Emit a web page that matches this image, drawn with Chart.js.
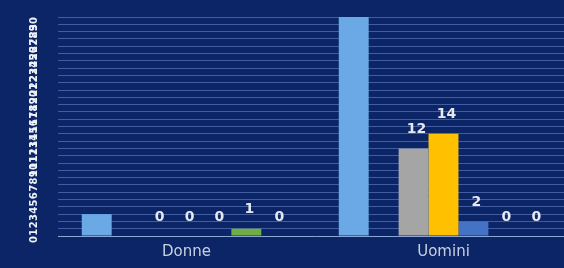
<!DOCTYPE html>
<html>
<head>
<meta charset="utf-8">
<script src="https://cdn.jsdelivr.net/npm/chart.js@4/dist/chart.umd.min.js"></script>
<style>
html,body{margin:0;padding:0;background:#0b2566;overflow:hidden;}
#wrap{width:564px;height:268px;position:relative;overflow:hidden;}
</style>
</head>
<body>
<div id="wrap"><canvas id="c" width="572" height="268"></canvas></div>
<script>
const categories = ["Donne", "Uomini"];
const series1 = [3, 30];
const series2 = [null, null];
const series3 = [0, 12];
const series4 = [0, 14];
const series5 = [0, 2];
const series6 = [1, 0];
const series7 = [0, 0];
const yTicks = [];
for (let i = 0; i <= 30; i++) yTicks.push(String(i));

const labelPlugin = {
  id: 'valueLabels',
  afterDatasetsDraw(chart) {
    const ctx = chart.ctx;
    ctx.save();
    ctx.fillStyle = '#e4e8f0';
    ctx.font = 'bold 14px "DejaVu Sans"';
    ctx.textAlign = 'center';
    ctx.textBaseline = 'bottom';
    chart.data.datasets.forEach((ds, di) => {
      if (!ds.showLabel) return;
      const meta = chart.getDatasetMeta(di);
      meta.data.forEach((bar, i) => {
        const v = ds.data[i];
        if (v === null || v === undefined) return;
        ctx.fillText(String(v), bar.x + 3, bar.y - 12);
      });
    });
    ctx.restore();
  }
};

new Chart(document.getElementById('c'), {
  type: 'bar',
  data: {
    labels: categories,
    datasets: [
      {data: series1, backgroundColor: '#6aa8e6', showLabel: false},
      {data: series2, backgroundColor: '#2e75b6', showLabel: false},
      {data: series3, backgroundColor: '#a5a5a5', showLabel: true},
      {data: series4, backgroundColor: '#ffc000', showLabel: true},
      {data: series5, backgroundColor: '#4472c4', showLabel: true},
      {data: series6, backgroundColor: '#70ad47', showLabel: true},
      {data: series7, backgroundColor: '#255e91', showLabel: true}
    ]
  },
  options: {
    responsive: false,
    animation: false,
    layout: {padding: {top: 17, right: 0, left: 0, bottom: 0}},
    plugins: {legend: {display: false}, tooltip: {enabled: false}},
    datasets: {bar: {categoryPercentage: 0.815, barPercentage: 1.0}},
    scales: {
      x: {
        grid: {display: false, drawTicks: false},
        border: {display: true, color: '#8ea6d6', width: 1},
        ticks: {color: '#c8d0e2', font: {family: 'DejaVu Sans', size: 15}, padding: 7}
      },
      y: {
        min: 0, max: 30,
        afterFit(scale) { scale.width = 58; scale.paddingTop = 0; scale.paddingBottom = 0; },
        grid: {color: 'rgba(110,140,210,0.55)', lineWidth: 1, drawTicks: false},
        border: {display: false},
        ticks: {
          stepSize: 1, autoSkip: false, minRotation: 90, maxRotation: 90,
          color: '#eef1f8', font: {family: 'DejaVu Sans', size: 10, weight: 'bold'}, padding: 24,
          callback: (v, i) => yTicks[i]
        }
      }
    }
  },
  plugins: [labelPlugin]
});
</script>
</body>
</html>
